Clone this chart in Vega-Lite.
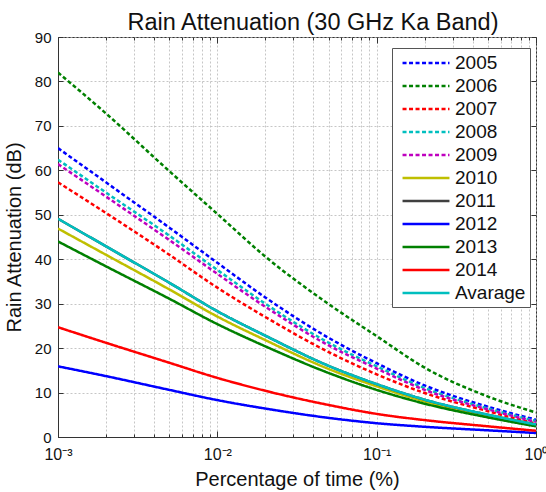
{
  "$schema": "https://vega.github.io/schema/vega-lite/v6.json",
  "autosize": {"type": "none"},
  "padding": {"left": 58, "top": 37, "right": 10, "bottom": 55},
  "width": 478,
  "height": 400,
  "background": "white",
  "title": {"text": "Rain Attenuation (30 GHz Ka Band)", "font": "Liberation Sans", "fontSize": 23.5, "fontWeight": "normal", "color": "#111", "offset": 8, "dx": 16, "dy": 12},
  "config": {
    "view": {"stroke": "#333", "strokeWidth": 1},
    "axis": {"labelFont": "Liberation Sans", "titleFont": "Liberation Sans", "labelColor": "#111", "titleColor": "#111", "titleFontWeight": "normal", "domainColor": "#333", "tickColor": "#333", "gridColor": "#b8b8b8", "gridDash": [2, 2], "gridWidth": 0.8}
  },
  "data": {"values": [
    {"series": "2005", "p": 0.001, "A": 65.0}, {"series": "2005", "p": 0.002, "A": 57.3}, {"series": "2005", "p": 0.005, "A": 47.1}, {"series": "2005", "p": 0.01, "A": 39.2}, {"series": "2005", "p": 0.02, "A": 31.4}, {"series": "2005", "p": 0.05, "A": 22.3}, {"series": "2005", "p": 0.1, "A": 16.6}, {"series": "2005", "p": 0.2, "A": 11.6}, {"series": "2005", "p": 0.5, "A": 6.8}, {"series": "2005", "p": 1, "A": 3.9},
    {"series": "2006", "p": 0.001, "A": 82.0}, {"series": "2006", "p": 0.002, "A": 72.8}, {"series": "2006", "p": 0.005, "A": 59.8}, {"series": "2006", "p": 0.01, "A": 50.2}, {"series": "2006", "p": 0.02, "A": 40.6}, {"series": "2006", "p": 0.05, "A": 29.9}, {"series": "2006", "p": 0.1, "A": 22.7}, {"series": "2006", "p": 0.2, "A": 15.6}, {"series": "2006", "p": 0.5, "A": 9.1}, {"series": "2006", "p": 1, "A": 5.5},
    {"series": "2007", "p": 0.001, "A": 57.3}, {"series": "2007", "p": 0.002, "A": 50.4}, {"series": "2007", "p": 0.005, "A": 41.0}, {"series": "2007", "p": 0.01, "A": 33.6}, {"series": "2007", "p": 0.02, "A": 27.0}, {"series": "2007", "p": 0.05, "A": 19.1}, {"series": "2007", "p": 0.1, "A": 14.1}, {"series": "2007", "p": 0.2, "A": 9.9}, {"series": "2007", "p": 0.5, "A": 5.8}, {"series": "2007", "p": 1, "A": 3.0},
    {"series": "2008", "p": 0.001, "A": 62.4}, {"series": "2008", "p": 0.002, "A": 55.0}, {"series": "2008", "p": 0.005, "A": 45.3}, {"series": "2008", "p": 0.01, "A": 37.6}, {"series": "2008", "p": 0.02, "A": 30.0}, {"series": "2008", "p": 0.05, "A": 21.2}, {"series": "2008", "p": 0.1, "A": 15.9}, {"series": "2008", "p": 0.2, "A": 11.0}, {"series": "2008", "p": 0.5, "A": 6.4}, {"series": "2008", "p": 1, "A": 3.6},
    {"series": "2009", "p": 0.001, "A": 61.4}, {"series": "2009", "p": 0.002, "A": 54.1}, {"series": "2009", "p": 0.005, "A": 44.3}, {"series": "2009", "p": 0.01, "A": 36.7}, {"series": "2009", "p": 0.02, "A": 29.3}, {"series": "2009", "p": 0.05, "A": 20.6}, {"series": "2009", "p": 0.1, "A": 15.4}, {"series": "2009", "p": 0.2, "A": 10.6}, {"series": "2009", "p": 0.5, "A": 6.2}, {"series": "2009", "p": 1, "A": 3.4},
    {"series": "2010", "p": 0.001, "A": 46.9}, {"series": "2010", "p": 0.002, "A": 41.0}, {"series": "2010", "p": 0.005, "A": 33.2}, {"series": "2010", "p": 0.01, "A": 27.1}, {"series": "2010", "p": 0.02, "A": 21.8}, {"series": "2010", "p": 0.05, "A": 15.3}, {"series": "2010", "p": 0.1, "A": 11.4}, {"series": "2010", "p": 0.2, "A": 8.0}, {"series": "2010", "p": 0.5, "A": 4.7}, {"series": "2010", "p": 1, "A": 2.6},
    {"series": "2011", "p": 0.001, "A": 49.1}, {"series": "2011", "p": 0.002, "A": 42.9}, {"series": "2011", "p": 0.005, "A": 34.7}, {"series": "2011", "p": 0.01, "A": 28.3}, {"series": "2011", "p": 0.02, "A": 22.8}, {"series": "2011", "p": 0.05, "A": 16.0}, {"series": "2011", "p": 0.1, "A": 11.9}, {"series": "2011", "p": 0.2, "A": 8.4}, {"series": "2011", "p": 0.5, "A": 5.0}, {"series": "2011", "p": 1, "A": 2.8},
    {"series": "2012", "p": 0.001, "A": 15.9}, {"series": "2012", "p": 0.002, "A": 13.7}, {"series": "2012", "p": 0.005, "A": 10.6}, {"series": "2012", "p": 0.01, "A": 8.3}, {"series": "2012", "p": 0.02, "A": 6.4}, {"series": "2012", "p": 0.05, "A": 4.3}, {"series": "2012", "p": 0.1, "A": 3.1}, {"series": "2012", "p": 0.2, "A": 2.3}, {"series": "2012", "p": 0.5, "A": 1.5}, {"series": "2012", "p": 1, "A": 0.9},
    {"series": "2013", "p": 0.001, "A": 44.0}, {"series": "2013", "p": 0.002, "A": 38.4}, {"series": "2013", "p": 0.005, "A": 31.1}, {"series": "2013", "p": 0.01, "A": 25.4}, {"series": "2013", "p": 0.02, "A": 20.4}, {"series": "2013", "p": 0.05, "A": 14.4}, {"series": "2013", "p": 0.1, "A": 10.6}, {"series": "2013", "p": 0.2, "A": 7.5}, {"series": "2013", "p": 0.5, "A": 4.4}, {"series": "2013", "p": 1, "A": 2.4},
    {"series": "2014", "p": 0.001, "A": 24.7}, {"series": "2014", "p": 0.002, "A": 21.2}, {"series": "2014", "p": 0.005, "A": 16.7}, {"series": "2014", "p": 0.01, "A": 13.3}, {"series": "2014", "p": 0.02, "A": 10.4}, {"series": "2014", "p": 0.05, "A": 7.2}, {"series": "2014", "p": 0.1, "A": 5.2}, {"series": "2014", "p": 0.2, "A": 3.8}, {"series": "2014", "p": 0.5, "A": 2.4}, {"series": "2014", "p": 1, "A": 1.4},
    {"series": "Avarage", "p": 0.001, "A": 49.1}, {"series": "Avarage", "p": 0.002, "A": 42.9}, {"series": "Avarage", "p": 0.005, "A": 34.7}, {"series": "Avarage", "p": 0.01, "A": 28.3}, {"series": "Avarage", "p": 0.02, "A": 22.8}, {"series": "Avarage", "p": 0.05, "A": 16.0}, {"series": "Avarage", "p": 0.1, "A": 11.9}, {"series": "Avarage", "p": 0.2, "A": 8.4}, {"series": "Avarage", "p": 0.5, "A": 5.0}, {"series": "Avarage", "p": 1, "A": 2.8}
  ]},
  "layer": [
    {
      "mark": {"type": "point", "opacity": 0},
      "encoding": {
        "x": {"field": "p", "type": "quantitative",
          "scale": {"type": "log", "domain": [0.001, 1], "nice": false},
          "axis": {"orient": "top", "values": [0.001, 0.002, 0.003, 0.004, 0.005, 0.006, 0.007, 0.008, 0.009, 0.01, 0.02, 0.03, 0.04, 0.05, 0.06, 0.07, 0.08, 0.09, 0.1, 0.2, 0.3, 0.4, 0.5, 0.6, 0.7, 0.8, 0.9, 1], "labels": false, "title": null, "grid": false, "domain": false,
            "tickSize": {"condition": {"test": "datum.value === 0.001 || datum.value === 0.01 || datum.value === 0.1 || datum.value === 1", "value": -6}, "value": -3}}},
        "y": {"field": "A", "type": "quantitative",
          "scale": {"domain": [0, 90], "nice": false},
          "axis": {"orient": "right", "values": [0, 10, 20, 30, 40, 50, 60, 70, 80, 90], "labels": false, "title": null, "grid": false, "domain": false, "tickSize": -5}}
      }
    },
    {
      "mark": {"type": "line", "strokeWidth": 2.5, "interpolate": "monotone", "clip": true},
      "encoding": {
        "x": {"field": "p", "type": "quantitative", "title": "Percentage of time (%)",
          "scale": {"type": "log", "domain": [0.001, 1], "nice": false},
          "axis": {"orient": "bottom", "values": [0.001, 0.002, 0.003, 0.004, 0.005, 0.006, 0.007, 0.008, 0.009, 0.01, 0.02, 0.03, 0.04, 0.05, 0.06, 0.07, 0.08, 0.09, 0.1, 0.2, 0.3, 0.4, 0.5, 0.6, 0.7, 0.8, 0.9, 1],
            "labelExpr": "datum.value === 0.001 ? '10⁻³' : datum.value === 0.01 ? '10⁻²' : datum.value === 0.1 ? '10⁻¹' : datum.value === 1 ? '10⁰' : ''",
            "labelFlush": false, "labelOverlap": false, "labelFontSize": 16, "labelPadding": 15, "titleFontSize": 20, "titlePadding": 4,
            "tickSize": {"condition": {"test": "datum.value === 0.001 || datum.value === 0.01 || datum.value === 0.1 || datum.value === 1", "value": -6}, "value": -3},
            "grid": true}},
        "y": {"field": "A", "type": "quantitative", "title": "Rain Attenuation (dB)",
          "scale": {"domain": [0, 90], "nice": false},
          "axis": {"orient": "left", "values": [0, 10, 20, 30, 40, 50, 60, 70, 80, 90], "labelFontSize": 15, "labelPadding": 12, "tickSize": -5, "titleFontSize": 20, "titlePadding": 10, "grid": true}},
        "color": {"field": "series", "type": "nominal",
          "scale": {"domain": ["2005", "2006", "2007", "2008", "2009", "2010", "2011", "2012", "2013", "2014", "Avarage"],
            "range": ["#0000ff", "#008000", "#ff0000", "#00bfbf", "#bf00bf", "#bfbf00", "#404040", "#0000ff", "#008000", "#ff0000", "#00bfbf"]},
          "legend": {"title": null, "orient": "none", "legendX": 334, "legendY": 11, "symbolType": "M-0.47,0H4.47", "symbolSize": 361, "symbolStrokeWidth": 2.5, "labelFont": "Liberation Sans", "labelFontSize": 19, "labelColor": "#111", "rowPadding": 2, "padding": 4, "labelOffset": 37, "strokeColor": "#555", "fillColor": "white"}},
        "strokeDash": {"field": "series", "type": "nominal",
          "scale": {"domain": ["2005", "2006", "2007", "2008", "2009", "2010", "2011", "2012", "2013", "2014", "Avarage"],
            "range": [[4, 2.5], [4, 2.5], [4, 2.5], [4, 2.5], [4, 2.5], [1, 0], [1, 0], [1, 0], [1, 0], [1, 0], [1, 0]]},
          "legend": {"title": null}}
      }
    }
  ]
}
